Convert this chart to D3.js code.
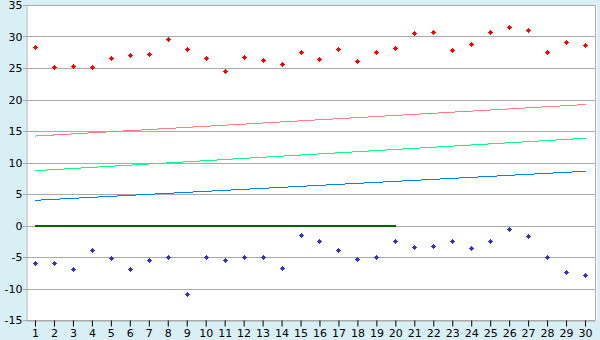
<!DOCTYPE html>
<html>
<head>
<meta charset="utf-8">
<script src="https://cdn.jsdelivr.net/npm/d3@7"></script>
<style>
  body { margin: 0; background: #d9eff6; }
  svg { display: block; font-family: "DejaVu Sans", Verdana, sans-serif; }
</style>
</head>
<body>
<div id="container"></div>
<script>
// chart values
const days = d3.range(1, 31)
const highs = [28.3, 25.0, 25.3, 25.0, 26.5, 27.0, 27.2, 29.5, 28.0, 26.5,
    24.5, 26.7, 26.2, 25.6, 27.5, 26.4, 28.0, 26.1, 27.5, 28.1,
    30.5, 30.7, 27.8, 28.8, 30.7, 31.5, 31.0, 27.5, 29.1, 28.6]
const lows = [-6.0, -6.0, -7.0, -3.9, -5.2, -7.0, -5.5, -5.0, -10.9, -5.0,
    -5.5, -5.0, -5.0, -6.8, -1.6, -2.5, -3.9, -5.4, -5.0, -2.5,
    -3.5, -3.3, -2.5, -3.6, -2.5, -0.6, -1.7, -5.0, -7.4, -7.9]
// trend lines: value at day 1 and day 30
const trendDays = [1, 30]
const redTrend = [14.2, 19.2]
const greenTrend = [8.7, 13.85]
const blueTrend = [4.0, 8.6]
// flat line at zero, day 1 to 20
const zeroDays = [1, 20]
const zeroLine = [0, 0]
const yTicks = [-15, -10, -5, 0, 5, 10, 15, 20, 25, 30, 35]

const width = 600,
    height = 340
let padding = { top: 5, right: 5, bottom: 20, left: 26 }

const svg = d3.select("#container")
    .append("svg")
    .attr("width", width)
    .attr("height", height)

svg.append("rect")
    .attr("x", padding.left)
    .attr("y", padding.top)
    .attr("width", width - padding.left - padding.right + 2)
    .attr("height", height - padding.top - padding.bottom)
    .attr("fill", "white")

let xScale = d3.scaleBand()
    .domain(days)
    .range([padding.left, width - padding.right])

let yScale = d3.scaleLinear()
    .domain([-15, 35])
    .range([height - padding.bottom, padding.top])

const cx = d => xScale(d) + xScale.bandwidth() / 2

// grid lines
svg.append("g")
    .selectAll("line")
    .data(yTicks)
    .enter()
    .append("line")
    .attr("x1", padding.left - 3)
    .attr("x2", width - padding.right)
    .attr("y1", d => Math.round(yScale(d)) + 0.5)
    .attr("y2", d => Math.round(yScale(d)) + 0.5)
    .attr("stroke", "#aaaaaa")

// right border
svg.append("line")
    .attr("x1", width - padding.right + 0.5)
    .attr("x2", width - padding.right + 0.5)
    .attr("y1", padding.top)
    .attr("y2", height - padding.bottom)
    .attr("stroke", "#aaaaaa")

let yAxis = d3.axisLeft(yScale)
    .tickValues(yTicks)
    .tickSize(0)
    .tickPadding(4)
    .tickFormat(d => String(d))

svg.append("g").attr("id", "y-axis")
    .attr("transform", `translate(${padding.left + 0.5},0)`)
    .call(yAxis)
    .call(g => g.select(".domain").attr("stroke", "#aaaaaa"))
    .selectAll("text")
    .attr("font-size", 11)
    .attr("font-family", "DejaVu Sans")
    .attr("fill", "black")

let xAxis = d3.axisBottom(xScale)
    .tickSize(6)
    .tickPadding(3)
    .tickSizeOuter(0)

svg.append("g").attr("id", "x-axis")
    .attr("transform", `translate(0,${Math.round(yScale(-15)) + 0.5})`)
    .call(xAxis)
    .call(g => g.select(".domain").attr("stroke", "#aaaaaa"))
    .call(g => g.selectAll(".tick line").attr("stroke", "black"))
    .selectAll("text")
    .attr("font-size", 11)
    .attr("font-family", "DejaVu Sans")
    .attr("fill", "black")

const line = d3.line()
    .x(d => cx(d[0]))
    .y(d => yScale(d[1]))

const drawLine = (xs, ys, color, w) => {
    svg.append("path")
        .datum(xs.map((x, i) => [x, ys[i]]))
        .attr("d", line)
        .attr("fill", "none")
        .attr("stroke", color)
        .attr("stroke-width", w)
        .attr("shape-rendering", "crispEdges")
}

drawLine(trendDays, redTrend, "#ff8080", 1)
drawLine(trendDays, greenTrend, "#00ff80", 1)
drawLine(trendDays, blueTrend, "#0080ff", 1)
drawLine(zeroDays, zeroLine, "#006400", 2)

// small stepped diamond, 5px across
const pixelDiamond = {
    draw(ctx) {
        const pts = [[-0.5, -2.5], [0.5, -2.5], [0.5, -1.5], [1.5, -1.5], [1.5, -0.5], [2.5, -0.5],
            [2.5, 0.5], [1.5, 0.5], [1.5, 1.5], [0.5, 1.5], [0.5, 2.5], [-0.5, 2.5],
            [-0.5, 1.5], [-1.5, 1.5], [-1.5, 0.5], [-2.5, 0.5], [-2.5, -0.5], [-1.5, -0.5],
            [-1.5, -1.5], [-0.5, -1.5]]
        ctx.moveTo(pts[0][0], pts[0][1])
        pts.slice(1).forEach(p => ctx.lineTo(p[0], p[1]))
        ctx.closePath()
    }
}
const marker = d3.symbol().type(pixelDiamond)

const drawPoints = (values, color) => {
    svg.append("g")
        .selectAll("path")
        .data(values)
        .enter()
        .append("path")
        .attr("d", marker)
        .attr("transform", (d, i) => `translate(${Math.floor(cx(days[i])) + 0.5},${Math.floor(yScale(d)) + 0.5})`)
        .attr("fill", color)
        .attr("shape-rendering", "crispEdges")
}

drawPoints(highs, "#ff0000")
drawPoints(lows, "#3333cc")
</script>
</body>
</html>
